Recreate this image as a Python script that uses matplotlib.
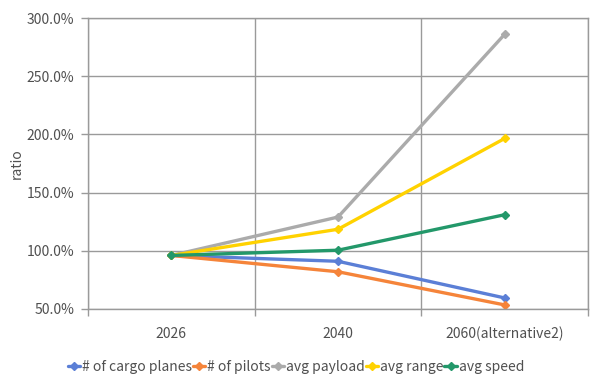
import matplotlib
matplotlib.use("Agg")
import matplotlib.pyplot as plt
from matplotlib.ticker import FixedLocator, FuncFormatter

plt.rcParams['font.family'] = ['Noto Sans CJK KR', 'DejaVu Sans']

categories = ["2026", "2040", "2060(alternative2)"]
cargo_planes = [96.0, 91.0, 59.5]
pilots = [96.0, 82.0, 53.5]
avg_payload = [96.0, 129.0, 286.0]
avg_range = [96.0, 118.5, 196.5]
avg_speed = [96.0, 100.5, 131.0]

series = [
    ("# of cargo planes", cargo_planes, "#5B7FD6"),
    ("# of pilots", pilots, "#F5843A"),
    ("avg payload", avg_payload, "#ABABAB"),
    ("avg range", avg_range, "#FFD200"),
    ("avg speed", avg_speed, "#23986A"),
]

text_color = "#505050"
grid_color = "#9A9A9A"
fs = 10

fig = plt.figure(figsize=(5.92, 3.76), dpi=100)
ax = fig.add_axes([88 / 592, (376 - 309) / 376, 500 / 592, 291 / 376])

x = list(range(len(categories)))
for name, vals, col in series:
    ax.plot(x, vals, color=col, lw=2.4, marker="D", ms=4.5, label=name,
            solid_capstyle="round")

ax.set_xlim(-0.5, len(categories) - 0.5)
ax.set_ylim(50, 300)

ax.xaxis.set_major_locator(FixedLocator([i - 0.5 for i in range(len(categories) + 1)]))
ax.xaxis.set_minor_locator(FixedLocator(x))
ax.set_xticklabels([""] * (len(categories) + 1))
ax.set_xticklabels(categories, minor=True)
ax.tick_params(axis="x", which="major", length=5, color=grid_color, width=1)
ax.tick_params(axis="x", which="minor", length=0, pad=13, labelsize=fs,
               labelcolor=text_color)

ax.set_yticks([50, 100, 150, 200, 250, 300])
ax.yaxis.set_major_formatter(FuncFormatter(lambda v, p: f"{v:.1f}%"))
ax.tick_params(axis="y", length=5, color=grid_color, width=1, labelsize=fs,
               labelcolor=text_color, pad=5)

ax.grid(True, which="major", color=grid_color, lw=1)
ax.set_axisbelow(True)
for s in ax.spines.values():
    s.set_color(grid_color)
    s.set_linewidth(1)

ax.set_ylabel("ratio", color=text_color, fontsize=fs, labelpad=2)

leg = fig.legend(loc="center", bbox_to_anchor=(296 / 592, 1 - 367 / 376), ncol=5,
                 frameon=False, fontsize=fs, handlelength=0.9, handletextpad=0.15,
                 columnspacing=0.05, borderaxespad=0)
for t in leg.get_texts():
    t.set_color(text_color)

fig.savefig("out.png", dpi=100)
